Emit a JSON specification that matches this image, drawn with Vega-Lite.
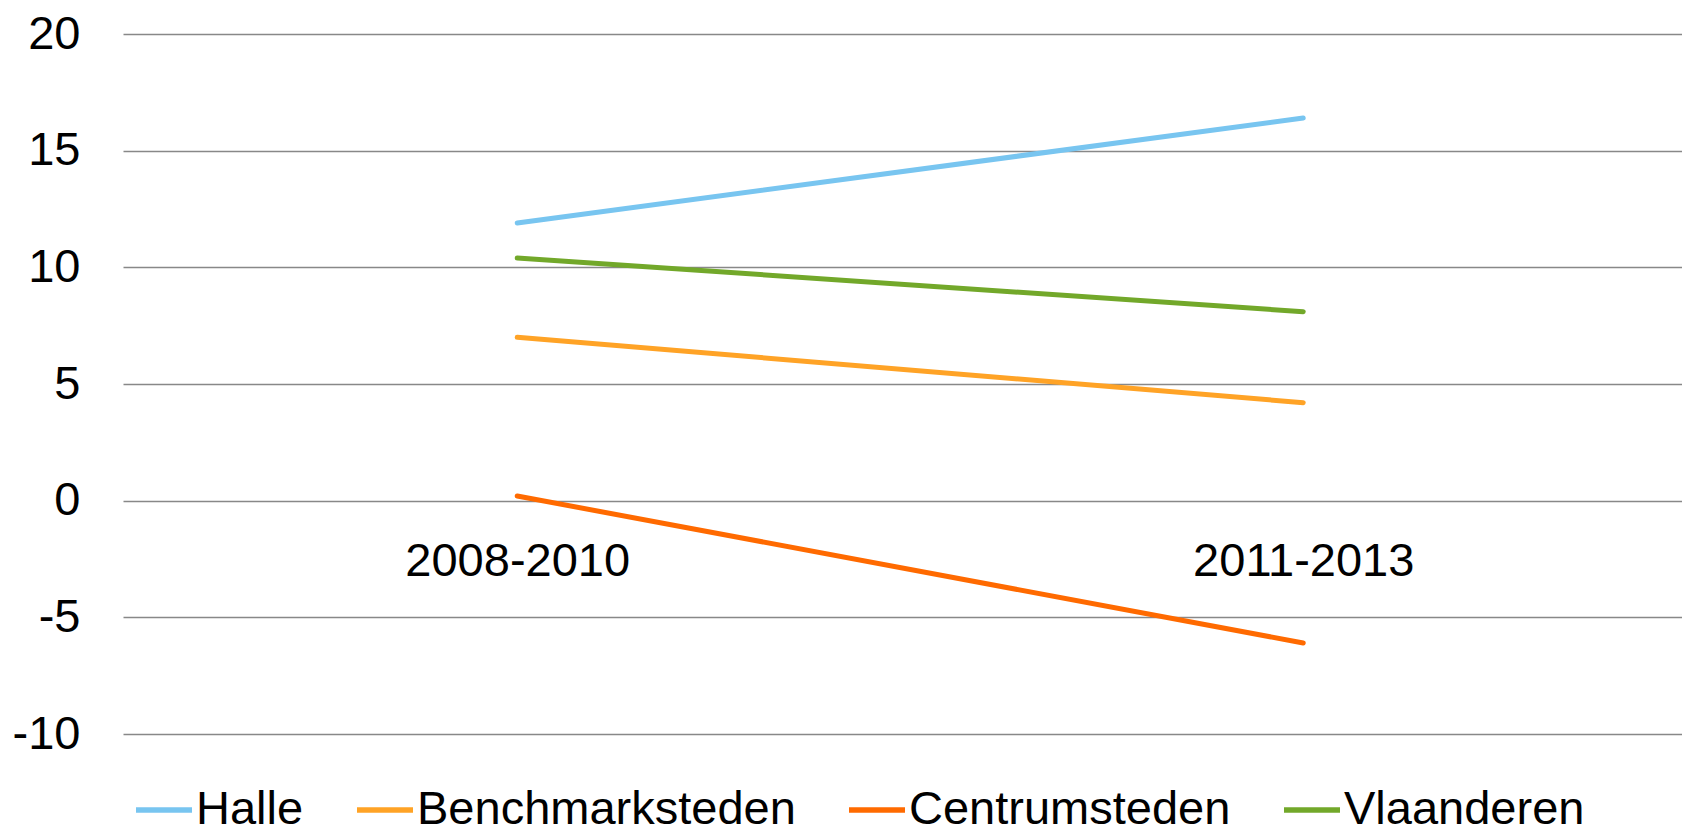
{
  "$schema": "https://vega.github.io/schema/vega-lite/v6.json",
  "width": 1559,
  "height": 700,
  "autosize": {"type": "none"},
  "padding": {"left": 123, "top": 34, "right": 0, "bottom": 94},
  "background": "white",
  "config": {
    "view": {"stroke": null},
    "font": "Liberation Sans",
    "axis": {"labelFont": "Liberation Sans", "labelColor": "black"},
    "legend": {"labelFont": "Liberation Sans"}
  },
  "data": {
    "values": [
      {"periode": "2008-2010", "reeks": "Halle", "waarde": 11.9},
      {"periode": "2011-2013", "reeks": "Halle", "waarde": 16.4},
      {"periode": "2008-2010", "reeks": "Benchmarksteden", "waarde": 7.0},
      {"periode": "2011-2013", "reeks": "Benchmarksteden", "waarde": 4.2},
      {"periode": "2008-2010", "reeks": "Centrumsteden", "waarde": 0.2},
      {"periode": "2011-2013", "reeks": "Centrumsteden", "waarde": -6.1},
      {"periode": "2008-2010", "reeks": "Vlaanderen", "waarde": 10.4},
      {"periode": "2011-2013", "reeks": "Vlaanderen", "waarde": 8.1}
    ]
  },
  "mark": {"type": "line", "strokeWidth": 5, "strokeCap": "round"},
  "encoding": {
    "x": {
      "field": "periode",
      "type": "ordinal",
      "scale": {"type": "point", "padding": 0.4917, "align": 0.51},
      "axis": {
        "title": null,
        "labelAngle": 0,
        "domain": false,
        "ticks": false,
        "grid": false,
        "offset": -233,
        "labelPadding": 37,
        "labelFontSize": 47,
        "labelLimit": 0,
        "labelColor": "black"
      }
    },
    "y": {
      "field": "waarde",
      "type": "quantitative",
      "scale": {"domain": [-10, 20], "nice": false, "zero": false},
      "axis": {
        "title": null,
        "values": [-10, -5, 0, 5, 10, 15, 20],
        "labelExpr": "toString(datum.value)",
        "domain": false,
        "ticks": false,
        "grid": true,
        "gridColor": "#888888",
        "gridWidth": 1.4,
        "labelPadding": 43,
        "labelFontSize": 47,
        "labelLimit": 0,
        "labelColor": "black"
      }
    },
    "color": {
      "field": "reeks",
      "type": "nominal",
      "sort": ["Halle", "Benchmarksteden", "Centrumsteden", "Vlaanderen"],
      "scale": {
        "domain": ["Halle", "Benchmarksteden", "Centrumsteden", "Vlaanderen"],
        "range": ["#78c5f0", "#ffa326", "#ff6a00", "#72a82a"]
      },
      "legend": {
        "title": null,
        "orient": "none",
        "direction": "horizontal",
        "legendX": 10,
        "legendY": 745,
        "columns": 4,
        "columnPadding": 42,
        "symbolType": "stroke",
        "symbolSize": 3136,
        "symbolStrokeWidth": 5.5,
        "labelOffset": 1,
        "labelFontSize": 47,
        "labelLimit": 0,
        "labelColor": "black",
        "padding": 0
      }
    }
  }
}
